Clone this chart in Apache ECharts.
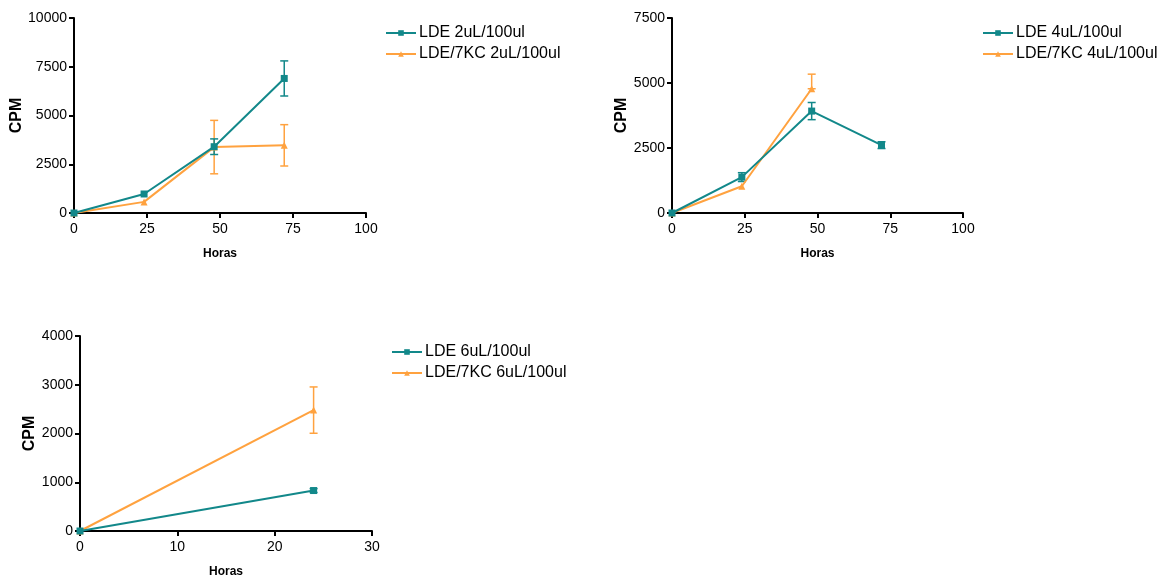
<!DOCTYPE html>
<html>
<head>
<meta charset="utf-8">
<script src="https://cdn.jsdelivr.net/npm/echarts@6/dist/echarts.min.js"></script>
<style>html,body{margin:0;padding:0;background:#fff;}#c{width:1157px;height:576px;}</style>
</head>
<body>
<div id="c"></div>
<script>
// ---- data ----
const hours1 = [0, 24, 48, 72];
const lde2 = [0, 975, 3400, 6900];
const lde2Err = [0, 0, 400, 900];
const kc2 = [0, 570, 3380, 3470];
const kc2Err = [0, 0, 1370, 1060];

const hours2 = [0, 24, 48, 72];
const lde4 = [0, 1380, 3920, 2610];
const lde4Err = [0, 170, 330, 130];
const hours2b = [0, 24, 48];
const kc4 = [0, 1030, 4780];
const kc4ErrUp = [0, 0, 560];
const kc4ErrDown = [0, 0, 0];

const hours3 = [0, 24];
const lde6 = [0, 830];
const lde6Err = [0, 40];
const kc6 = [0, 2480];
const kc6Err = [0, 475];

const names = ['LDE 2uL/100ul', 'LDE/7KC 2uL/100ul', 'LDE 4uL/100ul', 'LDE/7KC 4uL/100ul', 'LDE 6uL/100ul', 'LDE/7KC 6uL/100ul'];
const xTitle = 'Horas';
const yTitle = 'CPM';

// ---- styles ----
const TEAL = '#12888a';
const ORANGE = '#ffa23f';
const FONT = 'Liberation Sans, Arial, sans-serif';

function pts(xs, ys) { return xs.map((x, i) => [x, ys[i]]); }
function errPts(xs, ys, up, down) { return xs.map((x, i) => [x, ys[i] - down[i], ys[i] + up[i]]); }

function errSeries(xi, data, color) {
  return {
    type: 'custom', xAxisIndex: xi, yAxisIndex: xi, silent: true, z: 3,
    data: data.filter(d => d[2] !== d[1]),
    renderItem: function (params, api) {
      const lo = api.coord([api.value(0), api.value(1)]);
      const hi = api.coord([api.value(0), api.value(2)]);
      const w = 4;
      const st = { stroke: color, lineWidth: 1.5 };
      return { type: 'group', children: [
        { type: 'line', shape: { x1: lo[0], y1: lo[1], x2: hi[0], y2: hi[1] }, style: st },
        { type: 'line', shape: { x1: hi[0] - w, y1: hi[1], x2: hi[0] + w, y2: hi[1] }, style: st },
        { type: 'line', shape: { x1: lo[0] - w, y1: lo[1], x2: lo[0] + w, y2: lo[1] }, style: st }
      ]};
    }
  };
}

function lineSeries(xi, name, data, color, sym, z) {
  return {
    type: 'line', name: name, xAxisIndex: xi, yAxisIndex: xi, data: data,
    symbol: sym, symbolSize: 7, showSymbol: true, z: z,
    lineStyle: { color: color, width: 2 }, itemStyle: { color: color },
    emphasis: { disabled: true }, animation: false
  };
}

function xAxis(gi, max, interval, gap) {
  return {
    type: 'value', gridIndex: gi, min: 0, max: max, interval: interval,
    name: xTitle, nameLocation: 'middle', nameGap: gap,
    nameTextStyle: { fontFamily: FONT, fontWeight: 'bold', fontSize: 12, color: '#000' },
    axisLine: { show: true, onZero: false, lineStyle: { color: '#000', width: 2 } },
    axisTick: { show: true, inside: false, length: 5, lineStyle: { color: '#000', width: 2 } },
    axisLabel: { fontFamily: FONT, fontSize: 14, color: '#000', margin: 9, formatter: v => String(v) },
    splitLine: { show: false }
  };
}
function yAxis(gi, max, interval, gap) {
  return {
    type: 'value', gridIndex: gi, min: 0, max: max, interval: interval,
    name: yTitle, nameLocation: 'middle', nameGap: gap, nameRotate: 90,
    nameTextStyle: { fontFamily: FONT, fontWeight: 'bold', fontSize: 16, color: '#000' },
    axisLine: { show: true, onZero: false, lineStyle: { color: '#000', width: 2 } },
    axisTick: { show: true, inside: false, length: 5, lineStyle: { color: '#000', width: 2 } },
    axisLabel: { fontFamily: FONT, fontSize: 14, color: '#000', margin: 7, formatter: v => String(v) },
    splitLine: { show: false }
  };
}
function legend(left, top, data) {
  return {
    left: left, top: top, orient: 'vertical', itemGap: 5, itemWidth: 30, itemHeight: 7,
    data: data, selectedMode: false,
    textStyle: { fontFamily: FONT, fontSize: 16, color: '#000', padding: [0, 0, 0, -2] }
  };
}

const chart = echarts.init(document.getElementById('c'), null, { renderer: 'canvas' });
chart.setOption({
  backgroundColor: '#fff',
  animation: false,
  grid: [
    { left: 74, top: 18, width: 292, height: 195, outerBoundsMode: 'none', containLabel: false },
    { left: 672, top: 18, width: 291, height: 195, outerBoundsMode: 'none', containLabel: false },
    { left: 80, top: 336, width: 292, height: 195, outerBoundsMode: 'none', containLabel: false }
  ],
  xAxis: [xAxis(0, 100, 25, 35), xAxis(1, 100, 25, 35), xAxis(2, 30, 10, 35)],
  yAxis: [yAxis(0, 10000, 2500, 46), yAxis(1, 7500, 2500, 41), yAxis(2, 4000, 1000, 40)],
  legend: [
    legend(380, 20, [names[0], names[1]]),
    legend(977, 20, [names[2], names[3]]),
    legend(386, 339, [names[4], names[5]])
  ],
  series: [
    errSeries(0, errPts(hours1, kc2, kc2Err, kc2Err), ORANGE),
    lineSeries(0, names[1], pts(hours1, kc2), ORANGE, 'triangle', 4),
    errSeries(0, errPts(hours1, lde2, lde2Err, lde2Err), TEAL),
    lineSeries(0, names[0], pts(hours1, lde2), TEAL, 'rect', 5),

    errSeries(1, errPts(hours2b, kc4, kc4ErrUp, kc4ErrDown), ORANGE),
    lineSeries(1, names[3], pts(hours2b, kc4), ORANGE, 'triangle', 4),
    errSeries(1, errPts(hours2, lde4, lde4Err, lde4Err), TEAL),
    lineSeries(1, names[2], pts(hours2, lde4), TEAL, 'rect', 5),

    errSeries(2, errPts(hours3, kc6, kc6Err, kc6Err), ORANGE),
    lineSeries(2, names[5], pts(hours3, kc6), ORANGE, 'triangle', 4),
    errSeries(2, errPts(hours3, lde6, lde6Err, lde6Err), TEAL),
    lineSeries(2, names[4], pts(hours3, lde6), TEAL, 'rect', 5)
  ]
});
</script>
</body>
</html>
